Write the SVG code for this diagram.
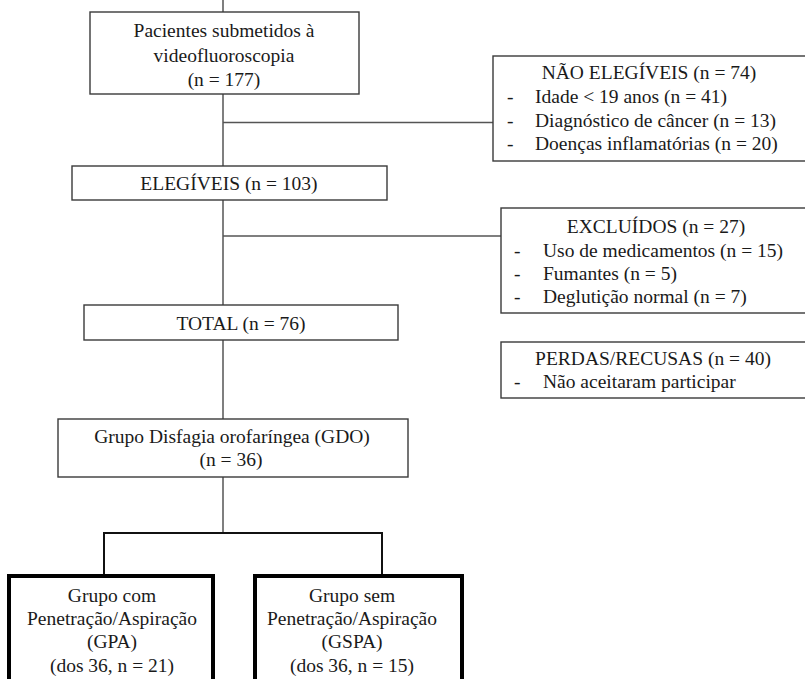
<svg xmlns="http://www.w3.org/2000/svg" width="805" height="679" viewBox="0 0 805 679">
<style>
text{font-family:'Liberation Serif','Times New Roman','DejaVu Serif',serif;font-size:19.5px;fill:#1a1a1a}
.c{text-anchor:middle}
.box{fill:#fff;stroke:#3a3a3a;stroke-width:1.4}
.thick{fill:#fff;stroke:#000;stroke-width:4}
.ln{fill:none;stroke:#555;stroke-width:1.5}
.lk{fill:none;stroke:#111;stroke-width:2}
</style>
<rect width="805" height="679" fill="#fff"/>
<g id="connectors">
<path class="ln" d="M223,0V419 M223,122.5H493 M223,236H501 M223,477V533"/>
<path class="lk" d="M104,575V533H382V575"/>
</g>
<g font-family="Liberation Serif, serif">
<g id="n_pacientes">
<rect class="box" x="90" y="12" width="269" height="82"/>
<text class="c" x="224" y="37">Pacientes submetidos à</text>
<text class="c" x="224" y="62">videofluoroscopia</text>
<text class="c" x="224" y="86">(n = 177)</text>
</g>
<g id="n_nao_elegiveis">
<rect class="box" x="493" y="56" width="320" height="105"/>
<text class="c" x="649" y="79">NÃO ELEGÍVEIS (n = 74)</text>
<text x="507" y="103">-</text><text x="535" y="103">Idade &lt; 19 anos (n = 41)</text>
<text x="507" y="127">-</text><text x="535" y="127">Diagnóstico de câncer (n = 13)</text>
<text x="507" y="150">-</text><text x="535" y="150">Doenças inflamatórias  (n = 20)</text>
</g>
<g id="n_elegiveis">
<rect class="box" x="72" y="166" width="315" height="34"/>
<text class="c" x="229" y="190">ELEGÍVEIS (n = 103)</text>
</g>
<g id="n_excluidos">
<rect class="box" x="501" y="208" width="312" height="105"/>
<text class="c" x="656" y="233">EXCLUÍDOS (n = 27)</text>
<text x="514" y="257">-</text><text x="543" y="257">Uso de medicamentos (n = 15)</text>
<text x="514" y="280">-</text><text x="543" y="280">Fumantes (n = 5)</text>
<text x="514" y="303">-</text><text x="543" y="303">Deglutição  normal (n = 7)</text>
</g>
<g id="n_total">
<rect class="box" x="84" y="305" width="314" height="35"/>
<text class="c" x="241" y="330">TOTAL (n = 76)</text>
</g>
<g id="n_perdas">
<rect class="box" x="501" y="342" width="312" height="56"/>
<text class="c" x="653" y="365">PERDAS/RECUSAS (n = 40)</text>
<text x="514" y="388">-</text><text x="543" y="388">Não aceitaram  participar</text>
</g>
<g id="n_gdo">
<rect class="box" x="58" y="419" width="350" height="58"/>
<text class="c" x="232" y="443">Grupo Disfagia  orofaríngea (GDO)</text>
<text class="c" x="231" y="466">(n = 36)</text>
</g>
<g id="n_gpa">
<rect class="thick" x="9" y="576" width="204" height="120"/>
<text class="c" x="112" y="602">Grupo com</text>
<text class="c" x="112" y="625">Penetração/Aspiração</text>
<text class="c" x="112" y="648">(GPA)</text>
<text class="c" x="112" y="672">(dos 36, n = 21)</text>
</g>
<g id="n_gspa">
<rect class="thick" x="255" y="576" width="207" height="120"/>
<text class="c" x="352" y="602">Grupo sem</text>
<text class="c" x="352" y="625">Penetração/Aspiração</text>
<text class="c" x="352" y="648">(GSPA)</text>
<text class="c" x="352" y="672">(dos 36, n = 15)</text>
</g>
</g>
</svg>
